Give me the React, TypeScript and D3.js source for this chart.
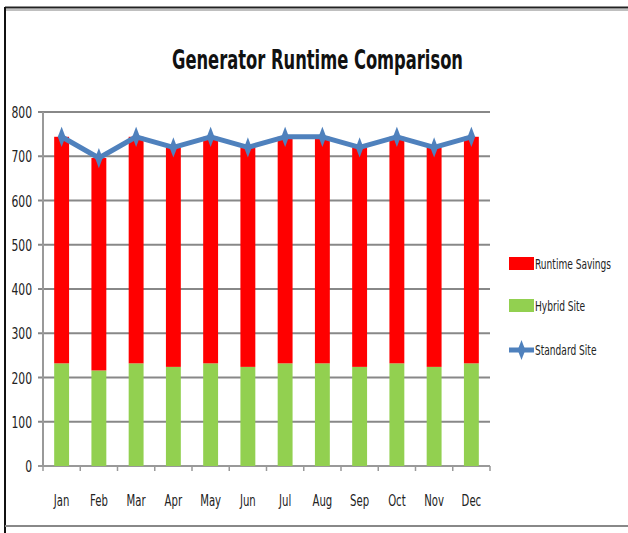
import React, { useRef, useEffect } from 'react';
import * as d3 from 'd3';

const months = ['Jan', 'Feb', 'Mar', 'Apr', 'May', 'Jun', 'Jul', 'Aug', 'Sep', 'Oct', 'Nov', 'Dec'];
const hybridSite = [232, 216, 232, 224, 232, 224, 232, 232, 224, 232, 224, 232];
const runtimeSavings = [512, 480, 512, 496, 512, 496, 512, 512, 496, 512, 496, 512];
const standardSite = [744, 696, 744, 720, 744, 720, 744, 744, 720, 744, 720, 744];
const yTicks = [0, 100, 200, 300, 400, 500, 600, 700, 800];

const FONT = "'DejaVu Sans Condensed', 'Liberation Sans Narrow', 'Open Sans', sans-serif";

const App = () => {
  const svgRef = useRef<SVGSVGElement>(null);

  useEffect(() => {
    const svg = d3.select(svgRef.current);
    svg.selectAll('*').remove();

    const left = 43, right = 490, top = 112, bottom = 466;

    const x = d3.scaleBand().domain(months).range([left, right]).paddingInner(0.6).paddingOuter(0.3);
    const xb = d3.scaleBand().domain(months).range([left, right]);
    const y = d3.scaleLinear().domain([0, 800]).range([bottom, top]);

    // narrow text, like the original's condensed face
    const label = (g: any, tx: number, ty: number, s: string | number, size: number, anchor = 'start', sx = 0.8) =>
      g.append('text')
        .attr('transform', `translate(${tx},${ty}) scale(${sx},1)`)
        .attr('text-anchor', anchor)
        .attr('font-family', FONT).attr('font-size', size).attr('fill', '#222')
        .text(s);

    // frame
    svg.append('rect').attr('width', 628).attr('height', 533).attr('fill', '#fff');
    svg.append('line').attr('x1', 5).attr('x2', 628).attr('y1', 7.5).attr('y2', 7.5).attr('stroke', '#222').attr('stroke-width', 2);
    svg.append('line').attr('x1', 5).attr('x2', 628).attr('y1', 10).attr('y2', 10).attr('stroke', '#aaa').attr('stroke-width', 1.5);
    svg.append('line').attr('x1', 5).attr('x2', 5).attr('y1', 7).attr('y2', 533).attr('stroke', '#111').attr('stroke-width', 2);
    svg.append('line').attr('x1', 5).attr('x2', 628).attr('y1', 526).attr('y2', 526).attr('stroke', '#888').attr('stroke-width', 2);

    svg.append('text')
      .attr('x', 172).attr('y', 69)
      .attr('font-family', FONT)
      .attr('font-weight', 'bold')
      .attr('font-size', 27)
      .attr('fill', '#111')
      .attr('textLength', 291)
      .attr('lengthAdjust', 'spacingAndGlyphs')
      .text('Generator Runtime Comparison');

    // grid + y axis
    const grid = svg.append('g');
    yTicks.forEach(t => {
      grid.append('line')
        .attr('x1', left - 5).attr('x2', right)
        .attr('y1', y(t)).attr('y2', y(t))
        .attr('stroke', t === 0 ? '#999' : '#888').attr('stroke-width', 2);
      label(grid, 32, y(t) + 6, t, 16, 'end', 0.75);
    });
    svg.append('line').attr('x1', left).attr('x2', left).attr('y1', top).attr('y2', bottom).attr('stroke', '#999').attr('stroke-width', 2);

    // stacked bars
    const bars = svg.append('g');
    months.forEach((m, i) => {
      bars.append('rect')
        .attr('x', x(m)!).attr('width', x.bandwidth())
        .attr('y', y(hybridSite[i])).attr('height', y(0) - y(hybridSite[i]))
        .attr('fill', '#92D050');
      bars.append('rect')
        .attr('x', x(m)!).attr('width', x.bandwidth())
        .attr('y', y(hybridSite[i] + runtimeSavings[i]))
        .attr('height', y(hybridSite[i]) - y(hybridSite[i] + runtimeSavings[i]))
        .attr('fill', '#FF0000');
    });

    // x axis ticks & labels
    const xa = svg.append('g');
    months.forEach(m => {
      xa.append('line')
        .attr('x1', xb(m)!).attr('x2', xb(m)!).attr('y1', bottom).attr('y2', bottom + 5)
        .attr('stroke', '#999').attr('stroke-width', 1.5);
      label(xa, xb(m)! + xb.bandwidth() / 2, 506, m, 15, 'middle', 0.75);
    });
    xa.append('line').attr('x1', right).attr('x2', right).attr('y1', bottom).attr('y2', bottom + 5).attr('stroke', '#999').attr('stroke-width', 1.5);

    // standard site line
    const cx = (m: string) => xb(m)! + xb.bandwidth() / 2;
    const ln = d3.line<number>().x((d, i) => cx(months[i])).y(d => y(d));
    svg.append('path').datum(standardSite).attr('d', ln)
      .attr('fill', 'none').attr('stroke', '#4F81BD').attr('stroke-width', 5).attr('stroke-linejoin', 'round');
    const diamond = d3.symbol().type(d3.symbolDiamond).size(70);
    svg.append('g').selectAll('path').data(standardSite).join('path')
      .attr('d', diamond)
      .attr('transform', (d, i) => `translate(${cx(months[i])},${y(d)}) scale(0.85,1.3)`)
      .attr('fill', '#4F81BD');

    // legend
    const lg = svg.append('g');
    lg.append('rect').attr('x', 509).attr('y', 257).attr('width', 25).attr('height', 13).attr('fill', '#FF0000');
    lg.append('rect').attr('x', 509).attr('y', 299).attr('width', 25).attr('height', 13).attr('fill', '#92D050');
    lg.append('line').attr('x1', 509).attr('x2', 534).attr('y1', 350).attr('y2', 350).attr('stroke', '#4F81BD').attr('stroke-width', 5);
    lg.append('path').attr('d', diamond).attr('transform', 'translate(521.5,350) scale(0.85,1.3)').attr('fill', '#4F81BD');
    const labels = ['Runtime Savings', 'Hybrid Site', 'Standard Site'];
    [264, 306, 350].forEach((ly, i) => {
      label(lg, 535, ly + 5, labels[i], 14, 'start', 0.72);
    });
  }, []);

  return <svg ref={svgRef} width={628} height={533} style={{ position: 'absolute', left: 0, top: 0 }} />;
};

export default App;
